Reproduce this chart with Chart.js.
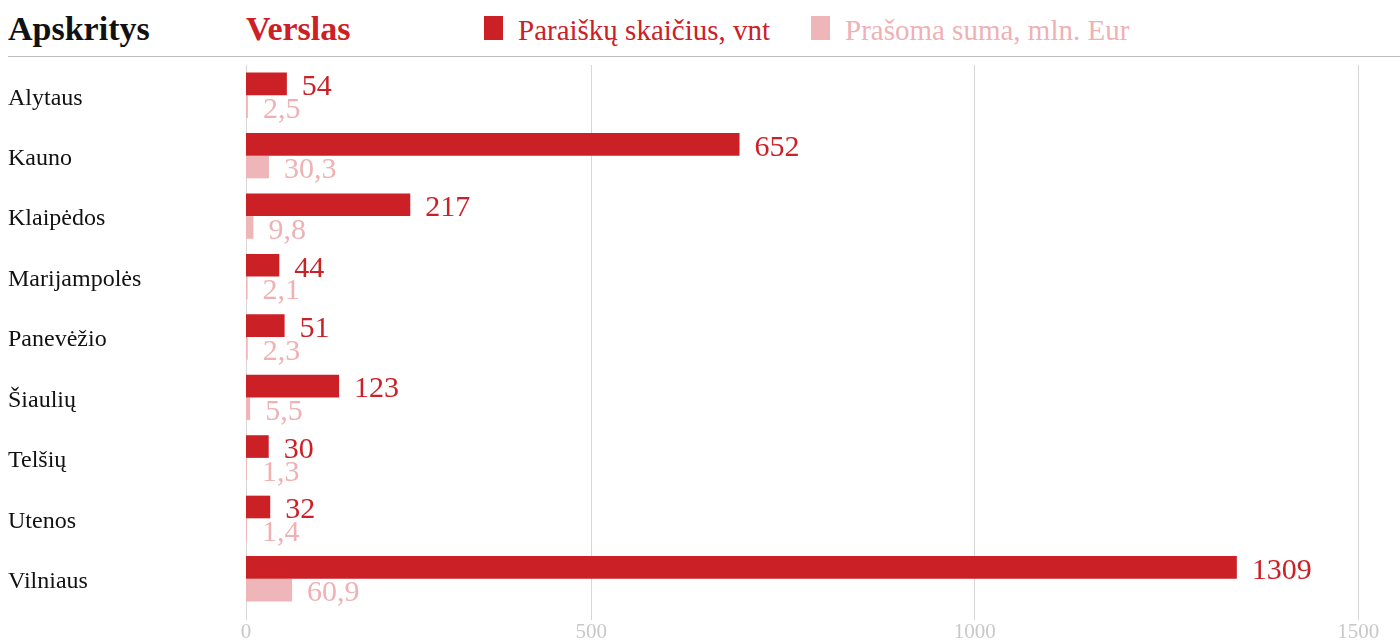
<!DOCTYPE html>
<html>
<head>
<meta charset="utf-8">
<script src="https://cdn.jsdelivr.net/npm/chart.js@4"></script>
<style>
  html, body { margin: 0; padding: 0; background: #fff; }
  #wrap { position: relative; width: 1400px; height: 641px; overflow: hidden; font-family: "Liberation Serif", serif; }
  #chart { position: absolute; left: 0; top: 0; }
  .head { position: absolute; top: 9px; font-weight: bold; font-size: 34px; line-height: 40px; }
  .rule { position: absolute; left: 8px; right: 0; top: 56px; height: 1px; background: #bdbdbd; }
  .leg { position: absolute; top: 10px; font-size: 29px; line-height: 40px; white-space: nowrap; }
  .leg i { position: absolute; left: -34px; top: 6px; width: 19px; height: 24px; }
</style>
</head>
<body>
<div id="wrap">
  <div class="head" style="left:8px;color:#111">Apskritys</div>
  <div class="head" style="left:246px;color:#cc2027">Verslas</div>
  <div id="legend"></div>
  <div class="rule"></div>
  <canvas id="chart" width="1400" height="641"></canvas>
</div>
<script>
// data
const regions = ["Alytaus", "Kauno", "Klaipėdos", "Marijampolės", "Panevėžio", "Šiaulių", "Telšių", "Utenos", "Vilniaus"];
const applications = [54, 652, 217, 44, 51, 123, 30, 32, 1309];
const amounts = [2.5, 30.3, 9.8, 2.1, 2.3, 5.5, 1.3, 1.4, 60.9];
const seriesNames = ["Paraiškų skaičius, vnt", "Prašoma suma, mln. Eur"];
const seriesColors = ["#cc2027", "#eeb6b8"];
const labelColors = ["#cc2027", "#efb1b4"];
const xMin = 0;
const gridTicks = [500, 1000, 1500];

const legendPos = [518, 845];
document.getElementById("legend").innerHTML = seriesNames.map((name, i) =>
  `<div class="leg" style="left:${legendPos[i]}px;color:${labelColors[i]}"><i style="background:${seriesColors[i]}"></i>${name}</div>`
).join("");

const valueLabels = {
  id: "valueLabels",
  afterDatasetsDraw(chart) {
    const ctx = chart.ctx;
    ctx.save();
    ctx.font = '30px "Liberation Serif"';
    ctx.textAlign = "left";
    ctx.textBaseline = "alphabetic";
    chart.data.datasets.forEach((ds, di) => {
      const meta = chart.getDatasetMeta(di);
      ctx.fillStyle = labelColors[di];
      meta.data.forEach((bar, i) => {
        const v = ds.data[i];
        const txt = di === 0 ? String(v) : v.toFixed(1).replace(".", ",");
        ctx.fillText(txt, bar.x + 15, bar.y + bar.height / 2);
      });
    });
    ctx.restore();
  }
};

const gridColor = "rgba(0,0,0,0.16)";
const tickFont = { family: "Liberation Serif", size: 21 };

new Chart(document.getElementById("chart"), {
  type: "bar",
  data: {
    labels: regions,
    datasets: [
      { label: seriesNames[0], data: applications, backgroundColor: seriesColors[0] },
      { label: seriesNames[1], data: amounts, backgroundColor: seriesColors[1] }
    ]
  },
  options: {
    indexAxis: "y",
    responsive: false,
    animation: false,
    categoryPercentage: 0.75,
    barPercentage: 1,
    layout: { padding: { left: 8, right: 8, top: 65, bottom: 0 } },
    plugins: { legend: { display: false }, tooltip: { enabled: false } },
    scales: {
      // value axis of the bars
      x: { display: false, min: xMin, max: 1514 },
      // gridline axis, drawn on top of the bars
      x2: {
        axis: "x",
        position: "bottom",
        min: 50,
        max: 1544,
        z: 1,
        border: { display: false },
        grid: { color: gridColor, tickLength: 11 },
        ticks: {
          color: "#c8c8c8", font: tickFont, padding: 0, maxRotation: 0, autoSkip: false,
          callback: (v, i) => i === 0 ? String(xMin) : String(v)
        },
        afterBuildTicks: s => { s.ticks = [{ value: s.min }].concat(gridTicks.map(v => ({ value: v }))); },
        afterFit: s => { s.height = 32; }
      },
      y: {
        border: { display: false },
        grid: { display: false },
        ticks: { color: "#111", font: { family: "Liberation Serif", size: 24 }, crossAlign: "far", padding: 0, labelOffset: 3 },
        afterFit: s => { s.width = 238; }
      }
    }
  },
  plugins: [valueLabels]
});
</script>
</body>
</html>
